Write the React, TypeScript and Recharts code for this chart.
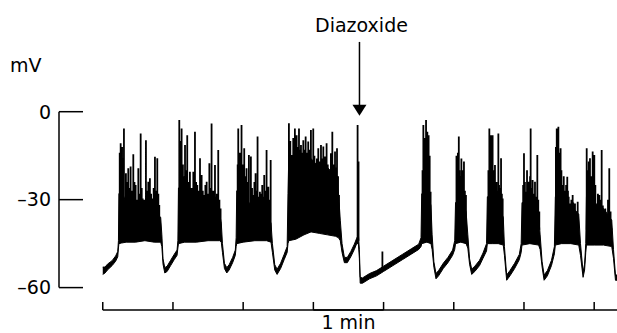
import React from 'react';
import { ComposedChart, Area, Line, XAxis, YAxis, ReferenceLine } from 'recharts';

// membrane potential trace, time in s, voltage in mV
// envelope of the dense part of the trace: [t, low, high]
const envelope: [number, number, number][] = [
  [0, -55.5, -53], [2, -55, -53], [4, -54, -52], [8, -52.5, -50.8], [11, -51, -49.2],
  [12.8, -49.5, -47.7], [13.4, -46.5, -44], [13.8, -45, -28], [16, -44.8, -27], [20, -44.5, -31],
  [28, -44.5, -33], [36, -44, -33], [44, -44.5, -34], [49.5, -44.5, -36], [50.5, -46, -42],
  [51.5, -52, -50.2], [53, -55, -53.2], [55, -54.5, -52.7], [58, -52.5, -50.7], [61, -50.5, -48.7],
  [63.5, -49, -47.2], [64.2, -46.5, -44], [64.7, -45, -26], [70, -44.5, -27], [80, -44.5, -32],
  [90, -44, -33], [100, -44, -35], [101.3, -44.5, -38], [102.3, -48, -45], [104, -53.5, -51.7],
  [106, -55, -53.2], [108, -54, -52.2], [111, -51.5, -49.7], [113.3, -49, -47.2], [114, -46, -43],
  [114.5, -45, -27], [120, -44.5, -29], [130, -44, -33], [140, -44, -35], [143.8, -44.5, -38],
  [145, -48, -45], [147, -54, -52.2], [149, -55.5, -53.7], [152, -53.5, -51.7], [155, -50.5, -48.7],
  [157.6, -48, -46], [158.3, -45, -28], [159, -44, -15], [165, -43.5, -16], [172, -42, -15],
  [178, -41, -16], [185, -41.5, -19], [192, -42, -19], [199, -42.5, -22], [201.5, -43, -28],
  [203, -44, -37], [204.5, -48, -45], [206.5, -51.5, -49.7], [209, -51.5, -49.7], [212, -49.5, -47.7],
  [215, -47, -45.2], [217, -45, -43.2], [218.5, -45, -42], [219.3, -50, -47], [220, -58.5, -56.5],
  [222, -58.5, -56.7], [228, -57, -55.2], [234, -56, -54.2], [240, -54.5, -52.7], [248, -52.5, -50.7],
  [256, -50.5, -48.7], [264, -48.5, -46.7], [270, -47, -45.2], [272, -46, -43], [272.6, -45, -28],
  [277, -44.5, -27], [280.5, -45, -32], [281.5, -47, -42], [283, -53, -51.2], [284.8, -57, -55.2],
  [287, -56, -54.2], [291, -53.5, -51.7], [295, -51.5, -49.7], [299, -49, -47.2], [300.8, -47, -44],
  [301.5, -45, -31], [306, -44.5, -30], [310.5, -45, -34], [312, -46.5, -42], [313.5, -52, -50.2],
  [315.3, -55.5, -53.7], [318, -54.5, -52.7], [322, -52.5, -50.7], [325, -50, -48.2], [328, -47.5, -45],
  [328.7, -45, -29], [333, -45, -30], [338, -45, -32], [342.3, -45.5, -36], [343.3, -49, -46],
  [345.2, -57.5, -55.7], [348, -56, -54.2], [352, -53.5, -51.7], [356, -50.5, -48.7], [357.6, -48, -45],
  [358.3, -45.5, -31], [365, -45, -32], [372.5, -45.5, -35], [373.8, -47, -42], [375.5, -53, -51.2],
  [377.2, -57.5, -55.7], [380, -56, -54.2], [383.5, -52.5, -50.7], [386, -48.5, -46], [386.8, -45.5, -29],
  [392, -45, -30], [400, -45, -32], [406.8, -45.5, -35], [408.3, -49, -45], [410.5, -56.5, -54.7],
  [411.8, -54, -52], [412.8, -48, -45], [413.4, -45.5, -29], [420, -45.5, -31], [428, -45.5, -33],
  [435, -46, -37], [436.5, -50, -47], [438.2, -57.5, -55.7], [439.5, -57.5, -55.7],
];

// spikes inside each burst: [t, peak]
const spikesB1 = [
  [14.5, -14], [15.3, -10.8], [16.5, -12], [17.2, -16], [18.1, -5.7], [19.8, -21], [20.8, -24], [21.8, -19.3],
  [22.8, -26], [23.8, -18.7], [25, -27], [26.1, -14.5], [27.1, -24], [28.1, -25], [29.2, -30], [30.4, -19.3],
  [31.5, -28], [32.4, -7.4], [33.3, -26], [34.1, -29.6], [35.5, -30], [36.9, -9.7], [37.9, -27], [38.9, -23.9],
  [40.3, -22.7], [41.3, -28], [42.3, -29.6], [43.5, -26], [44.6, -15.4], [45.5, -27], [46.6, -15.9],
  [47.5, -28], [48.3, -31.8],
];
const spikesB2 = [
  [65.4, -2.8], [66.3, -10], [67.4, -5.7], [68.5, -18], [69.4, -22], [70.3, -11.4], [71.2, -20], [72.2, -8],
  [73.4, -24], [74.5, -20.5], [76, -26], [77.4, -20.5], [78.8, -6.8], [79.8, -24], [80.8, -25], [82, -27],
  [83.1, -15.9], [84.5, -21.6], [85.5, -27], [86.5, -28.4], [87.7, -25], [88.8, -23.9], [90, -28],
  [91.1, -17.6], [92, -26], [93, -4], [94.5, -27], [95.9, -18.2], [96.7, -29], [97.5, -28], [98.7, -13.1],
  [99.7, -30], [100.7, -33],
];
const spikesB3 = [
  [115.3, -18], [115.8, -5.7], [116.5, -16], [117.2, -14], [118.6, -4.5], [119.8, -18], [120.9, -12.5],
  [121.9, -22], [122.9, -19.3], [123.9, -24], [124.9, -14.8], [126.6, -15.3], [127.6, -26], [128.6, -28.4],
  [129.6, -24], [130.6, -21], [131.5, -27], [132.3, -8.5], [133.3, -29], [134.3, -27.3], [135.3, -28],
  [136.3, -25], [137.2, -29], [138, -21.6], [139, -27], [140, -13.1], [140.8, -29], [141.5, -25.6],
  [142.5, -30], [143.5, -16.5],
];
const spikesB4 = [
  [159.1, -3.9], [160.3, -10], [161.4, -14.8], [162.8, -9], [164.2, -5.7], [165.7, -8], [166.7, -12],
  [167.7, -5.7], [168.6, -13], [169.4, -11.4], [170.4, -14], [171.4, -9.7], [172.4, -13], [173.4, -8.5],
  [174.5, -14], [175.6, -10.2], [176.8, -13], [177.9, -6.2], [179.9, -5.7], [180.9, -15], [181.9, -18.7],
  [183, -16], [184.2, -12.5], [185.4, -17], [186.5, -11.4], [187.5, -16], [188.5, -11.9], [189.9, -15.3],
  [191.3, -10.8], [192.3, -18], [193.3, -21.6], [195, -14.2], [196.2, -6.8], [197.3, -18], [198.5, -13.6],
  [199.3, -19], [200.2, -12.5], [201.1, -22], [201.9, -28.4],
];
const spikesB5 = [
  [273.3, -20], [274, -4.5], [274.6, -14], [275.3, -9], [276.3, -2.8], [276.9, -12], [277.4, -6.8],
  [278, -18], [278.5, -8], [279.4, -15], [280.2, -27.3],
];
const spikesB6 = [
  [302.3, -15], [302.9, -24], [303.5, -14], [304.3, -8.5], [304.9, -20], [305.3, -22], [305.9, -26],
  [306.5, -16], [307.1, -24], [307.7, -20], [308.2, -26], [308.7, -17], [309.5, -27], [310.4, -28.4],
];
const spikesB7 = [
  [329.6, -20], [330.4, -5.7], [331.1, -9], [331.8, -8], [332.5, -14], [333.2, -8], [334, -20],
  [334.6, -24], [335.2, -18.2], [335.9, -26], [336.5, -24], [337.3, -27], [338.1, -7.4], [338.7, -25],
  [339.2, -26], [339.8, -28], [340.4, -15.9], [341.1, -28], [341.8, -29.6],
];
const spikesB8 = [
  [359.3, -25], [360, -14.2], [360.8, -24], [361.7, -27.3], [362.6, -20], [363.7, -23.9], [364.6, -27],
  [365.2, -22], [365.7, -5.7], [366.5, -26], [367.4, -23.3], [368.4, -28], [369.4, -23.9], [370.4, -29],
  [371.4, -14.8], [372.2, -30], [373.1, -34],
];
const spikesB9 = [
  [387.3, -12], [388, -5.7], [388.7, -9], [389.4, -5.1], [390.3, -14], [391.3, -12.5], [392, -20],
  [392.5, -25], [393, -26.1], [394, -22], [394.5, -27], [395, -28.4], [396, -25], [397, -22.2],
  [397.6, -27], [398.2, -29], [399.3, -31.3], [400.5, -30], [401.6, -28.4], [402.1, -31], [402.6, -33],
  [403.6, -31.3], [404.8, -34], [405.9, -30.7],
];
const spikesB10 = [
  [413.6, -12.5], [414.5, -20], [415.4, -17], [416.4, -15.9], [417.5, -22], [418.1, -26], [418.7, -13.6],
  [419.4, -25], [420.1, -14.8], [421, -25], [422.1, -31.8], [423.2, -28], [424.4, -28.4], [425.4, -30],
  [426.4, -13.1], [427.4, -32], [428.4, -35.2], [429.5, -33], [430.7, -37.5], [431.8, -30], [432.9, -19.3],
  [434, -34], [434.9, -39.8],
];
const bursts = [spikesB1, spikesB2, spikesB3, spikesB4, spikesB5, spikesB6, spikesB7, spikesB8, spikesB9, spikesB10];
const spikeBase = -40;
// isolated events: [t, base, peak]
const singleSpikes = [[217.8, -44, -4.5], [218.6, -44, -17], [239, -53.5, -47.7]];

const yTicks = [-60, -30, 0];
const minuteTicks = [0, 60, 120, 180, 240, 300, 360, 420];
const barLevel = -67.6;
const barTickTop = -64.9;
const traceEnd = 439.5;
const drugTime = 219.4;
const arrowTop = 23.8;
const arrowTip = -1.4;

const FONT = 'DejaVu Sans';

const envelopeData = envelope.map(([t, lo, hi]) => ({ t, range: [lo, hi] }));

const spikeData: { t: number; v: number | null }[] = [];
bursts.forEach((b) => {
  b.forEach(([t, p]) => {
    spikeData.push({ t, v: spikeBase }, { t, v: p }, { t, v: spikeBase });
  });
  spikeData.push({ t: b[b.length - 1][0] + 0.1, v: null });
});
singleSpikes.forEach(([t, base, p]) => {
  spikeData.push({ t, v: base }, { t, v: p }, { t, v: base }, { t: t + 0.1, v: null });
});

const YTick = ({ x, y, payload }: any) => (
  <g>
    <line x1={x + 8} x2={x + 32} y1={y} y2={y} stroke="#000" strokeWidth={1.5} />
    <text x={x} y={y} dy="0.36em" textAnchor="end" fontSize={19} fontFamily={FONT} fill="#000">
      {payload.value === 0 ? '0' : '–' + Math.abs(payload.value)}
    </text>
  </g>
);

const ArrowShape = (props: any) => {
  const { x1, y1, x2, y2 } = props;
  return (
    <g>
      <text x={x1 + 2} y={y1 - 10} textAnchor="middle" fontSize={19} fontFamily={FONT} fill="#000">
        Diazoxide
      </text>
      <line x1={x1} x2={x2} y1={y1} y2={y2 - 10} stroke="#000" strokeWidth={1.5} />
      <polygon points={`${x2 - 7},${y2 - 11} ${x2 + 7},${y2 - 11} ${x2},${y2}`} fill="#000" />
    </g>
  );
};

const MvLabel = (props: any) => {
  const vb = props.viewBox || { x: 0, y: 0 };
  return (
    <text x={vb.x + 10} y={vb.y - 40} fontSize={19} fontFamily={FONT} fill="#000">
      mV
    </text>
  );
};

export default function App() {
  return (
    <div style={{ position: 'absolute', left: 0, top: 0, background: '#fff' }}>
      <ComposedChart width={617} height={333} margin={{ top: 111.7, right: 0, bottom: 45.4, left: 0 }}>
        <XAxis type="number" dataKey="t" domain={[-37.4, 439.5]} allowDataOverflow hide />
        <YAxis
          type="number"
          domain={[-60, 0]}
          ticks={yTicks}
          width={59}
          tickSize={0}
          tickMargin={8}
          tickLine={false}
          axisLine={{ stroke: '#000', strokeWidth: 1.5 }}
          tick={<YTick />}
          label={<MvLabel />}
          allowDataOverflow
        />
        <Area
          data={envelopeData}
          dataKey="range"
          type="linear"
          stroke="#000"
          strokeWidth={1}
          fill="#000"
          fillOpacity={1}
          dot={false}
          activeDot={false}
          isAnimationActive={false}
        />
        <Line
          data={spikeData}
          dataKey="v"
          type="linear"
          stroke="#000"
          strokeWidth={1.8}
          dot={false}
          activeDot={false}
          connectNulls={false}
          isAnimationActive={false}
        />
        <ReferenceLine
          segment={[{ x: 0, y: barLevel }, { x: traceEnd, y: barLevel }]}
          stroke="#000"
          strokeWidth={1.5}
          ifOverflow="visible"
        />
        {minuteTicks.map((m) => (
          <ReferenceLine
            key={m}
            segment={[{ x: m, y: barLevel }, { x: m, y: barTickTop }]}
            stroke="#000"
            strokeWidth={1.5}
            ifOverflow="visible"
          />
        ))}
        <ReferenceLine
          segment={[{ x: 180, y: barLevel }, { x: 240, y: barLevel }]}
          stroke="#000"
          strokeWidth={1.5}
          ifOverflow="visible"
          label={{ value: '1 min', position: 'bottom', offset: 6, fill: '#000', fontSize: 19, fontFamily: FONT }}
        />
        <ReferenceLine
          segment={[{ x: drugTime, y: arrowTop }, { x: drugTime, y: arrowTip }]}
          ifOverflow="visible"
          shape={<ArrowShape />}
        />
      </ComposedChart>
    </div>
  );
}
